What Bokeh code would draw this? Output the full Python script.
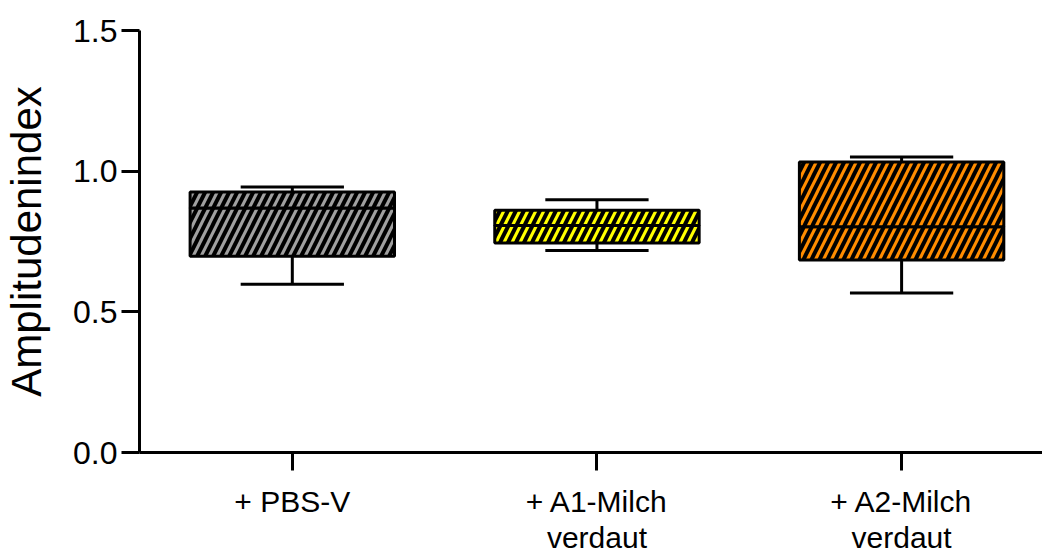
from bokeh.plotting import figure
from bokeh.models import Range1d, FixedTicker, PrintfTickFormatter, ColumnDataSource
from bokeh.embed import file_html
from bokeh.resources import INLINE

categories = ["+ PBS-V", "+ A1-Milch\nverdaut", "+ A2-Milch\nverdaut"]
lower = [0.598, 0.718, 0.567]
q1 = [0.698, 0.745, 0.684]
median = [0.869, 0.807, 0.802]
q3 = [0.926, 0.861, 1.033]
upper = [0.944, 0.898, 1.050]
colors = ["#a0a0a0", "#ffff00", "#ff8c00"]

xs = [i + 1 for i in range(len(categories))]
box_w = 0.671
cap_w = 0.339

p = figure(width=1042, height=557, output_backend="svg", toolbar_location=None,
           x_range=Range1d(0.4984, 3.4625), y_range=Range1d(0, 1.5),
           min_border_left=132, min_border_right=0, min_border_top=30, min_border_bottom=105)
p.outline_line_color = None
p.xgrid.grid_line_color = None
p.ygrid.grid_line_color = None
p.background_fill_color = "white"
p.border_fill_color = "white"

src = ColumnDataSource(dict(x=xs, lower=lower, q1=q1, median=median, q3=q3, upper=upper,
                            color=colors,
                            left=[x - box_w / 2 for x in xs], right=[x + box_w / 2 for x in xs],
                            cl=[x - cap_w / 2 for x in xs], cr=[x + cap_w / 2 for x in xs]))

p.segment(x0="x", y0="q3", x1="x", y1="upper", source=src, line_color="black", line_width=3)
p.segment(x0="x", y0="q1", x1="x", y1="lower", source=src, line_color="black", line_width=3)
p.segment(x0="cl", y0="upper", x1="cr", y1="upper", source=src, line_color="black", line_width=3)
p.segment(x0="cl", y0="lower", x1="cr", y1="lower", source=src, line_color="black", line_width=3)

for bottom_key, top_key in (("q1", "median"), ("median", "q3")):
    p.quad(left="left", right="right", bottom=bottom_key, top=top_key, source=src,
           fill_color="color", line_color="black", line_width=3,
           hatch_pattern="/", hatch_color="black", hatch_scale=16, hatch_weight=4)

font = "Liberation Sans"

p.yaxis.ticker = FixedTicker(ticks=[0, 0.5, 1.0, 1.5])
p.yaxis.formatter = PrintfTickFormatter(format="%.1f")
p.yaxis.axis_label = "Amplitudenindex"
p.yaxis.axis_label_text_font = font
p.yaxis.axis_label_text_font_size = "42px"
p.yaxis.axis_label_text_font_style = "normal"
p.yaxis.axis_label_standoff = 20
p.yaxis.major_label_text_font_size = "32px"
p.yaxis.major_label_standoff = 4

p.xaxis.ticker = FixedTicker(ticks=xs)
p.xaxis.major_label_overrides = {x: c for x, c in zip(xs, categories)}
p.xaxis.major_label_text_font_size = "30px"
p.xaxis.major_label_text_line_height = 1.1
p.xaxis.major_label_standoff = 14

for ax in (p.xaxis, p.yaxis):
    ax.axis_line_width = 3
    ax.axis_line_color = "black"
    ax.major_tick_line_width = 3
    ax.major_tick_line_color = "black"
    ax.major_tick_out = 18
    ax.major_tick_in = 0
    ax.minor_tick_line_color = None
    ax.major_label_text_font = font
    ax.major_label_text_color = "black"
    ax.axis_label_text_color = "black"

open("out.html", "w").write(file_html(p, INLINE))
